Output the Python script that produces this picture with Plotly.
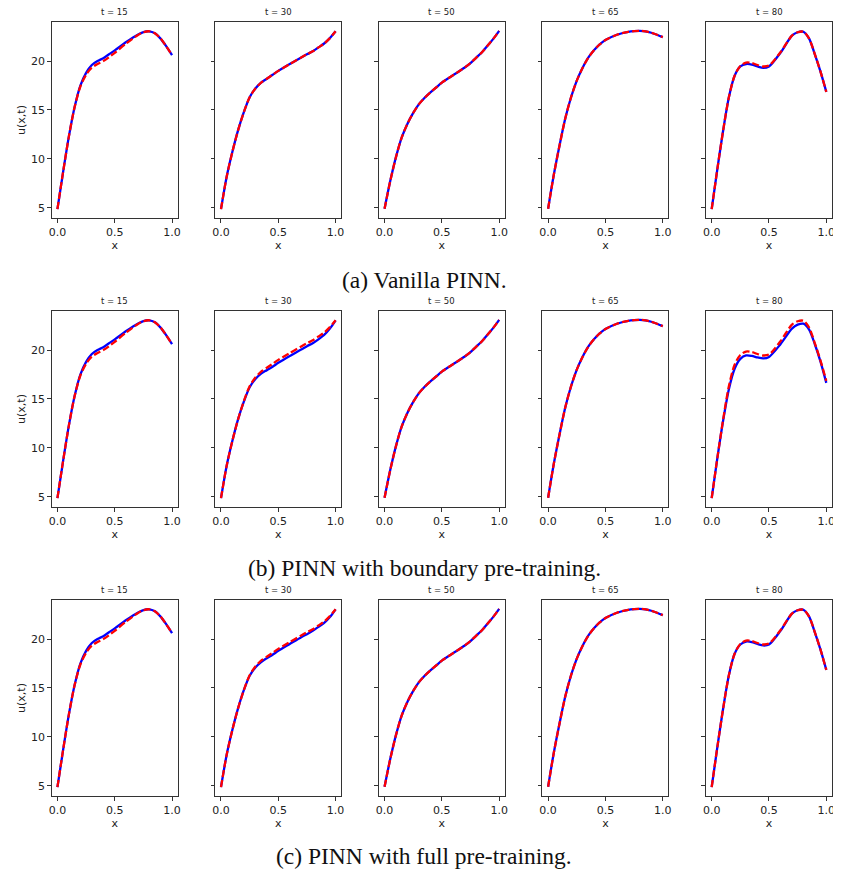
import plotly.graph_objects as go

# ---------------- data ----------------
x_grid = [0.0, 0.05, 0.1, 0.15, 0.2, 0.25, 0.3, 0.35, 0.4, 0.45, 0.5,
          0.6, 0.7, 0.75, 0.8, 0.85, 0.9, 0.95, 1.0]

times = [15, 30, 50, 65, 80]
row_captions = ["(a) Vanilla PINN.",
                "(b) PINN with boundary pre-training.",
                "(c) PINN with full pre-training."]

# exact solution (red dashed)
exact_t15 = [4.86, 8.7, 12.3, 15.3, 17.4, 18.6, 19.35, 19.7, 20.0, 20.4, 20.85,
             21.8, 22.65, 22.95, 23.05, 22.85, 22.3, 21.5, 20.6]
exact_t30 = [4.86, 8.2, 10.75, 12.96, 14.8, 16.3, 17.2, 17.8, 18.2, 18.6, 19.0,
             19.7, 20.37, 20.7, 21.0, 21.4, 21.8, 22.35, 23.05]
exact_t50 = [4.9, 7.75, 10.2, 12.2, 13.6, 14.7, 15.6, 16.25, 16.8, 17.3, 17.8,
             18.57, 19.35, 19.8, 20.35, 20.9, 21.6, 22.3, 23.1]
exact_t65 = [4.9, 8.4, 11.4, 14.15, 16.3, 18.0, 19.3, 20.35, 21.1, 21.7, 22.15,
             22.7, 23.0, 23.07, 23.1, 23.05, 22.9, 22.7, 22.45]
exact_t80 = [4.85, 9.0, 12.9, 16.3, 18.5, 19.5, 19.85, 19.8, 19.6, 19.45, 19.55,
             20.9, 22.6, 22.95, 23.0, 22.3, 20.7, 18.9, 16.85]

# (a) vanilla PINN predictions (blue solid)
vanilla_t15 = [4.86, 8.7, 12.3, 15.3, 17.5, 18.8, 19.6, 20.0, 20.3, 20.7, 21.1,
               21.95, 22.7, 22.97, 23.05, 22.85, 22.3, 21.5, 20.6]
vanilla_t30 = exact_t30
vanilla_t50 = exact_t50
vanilla_t65 = exact_t65
vanilla_t80 = [4.85, 9.0, 12.9, 16.3, 18.5, 19.45, 19.7, 19.65, 19.45, 19.3, 19.45,
               20.85, 22.6, 22.95, 23.0, 22.3, 20.7, 18.9, 16.85]

# (b) boundary pre-training predictions
boundary_t15 = [4.86, 8.7, 12.3, 15.3, 17.5, 18.8, 19.6, 20.0, 20.3, 20.7, 21.1,
                21.95, 22.7, 22.97, 23.05, 22.85, 22.3, 21.5, 20.6]
boundary_t30 = [4.86, 8.2, 10.75, 12.96, 14.75, 16.2, 17.05, 17.6, 17.95, 18.3, 18.7,
                19.4, 20.05, 20.4, 20.7, 21.1, 21.55, 22.2, 23.05]
boundary_t50 = exact_t50
boundary_t65 = exact_t65
boundary_t80 = [4.85, 9.0, 12.8, 16.0, 18.1, 19.1, 19.45, 19.4, 19.25, 19.15, 19.3,
                20.6, 22.2, 22.6, 22.7, 22.1, 20.6, 18.8, 16.65]

# (c) full pre-training predictions
full_t15 = [4.86, 8.7, 12.3, 15.3, 17.5, 18.8, 19.6, 20.0, 20.3, 20.7, 21.1,
            21.95, 22.7, 22.97, 23.05, 22.85, 22.3, 21.5, 20.6]
full_t30 = [4.86, 8.2, 10.75, 12.96, 14.8, 16.25, 17.1, 17.65, 18.05, 18.4, 18.8,
            19.5, 20.2, 20.5, 20.85, 21.25, 21.65, 22.25, 23.05]
full_t50 = exact_t50
full_t65 = exact_t65
full_t80 = [4.85, 9.0, 12.9, 16.3, 18.5, 19.45, 19.75, 19.7, 19.5, 19.35, 19.45,
            20.85, 22.6, 22.95, 23.0, 22.3, 20.7, 18.9, 16.85]

exact_rows = [exact_t15, exact_t30, exact_t50, exact_t65, exact_t80]
pred_rows = [
    [vanilla_t15, vanilla_t30, vanilla_t50, vanilla_t65, vanilla_t80],
    [boundary_t15, boundary_t30, boundary_t50, boundary_t65, boundary_t80],
    [full_t15, full_t30, full_t50, full_t65, full_t80],
]

x_ticks = [0.0, 0.5, 1.0]
y_ticks = [5, 10, 15, 20]

# ---------------- layout ----------------
OFF = 8  # page body margin
W, H = 841 - OFF, 873 - OFF
col_left = [49 + 164.75 * c - OFF for c in range(5)]
col_w = 127
row_top = [22 + 289 * r - OFF for r in range(3)]
row_h = 196
caption_y = [280 - OFF, 568 - OFF, 856 - OFF]
caption_x = 424 - OFF

fig = go.Figure()
layout = dict(width=W, height=H, margin=dict(l=0, r=0, t=0, b=0), autosize=False,
              paper_bgcolor="white", plot_bgcolor="white", showlegend=False,
              font=dict(family="DejaVu Sans", color="#222222", size=11))
annotations = []

k = 0
for r in range(3):
    for c in range(5):
        k += 1
        xa = "x" if k == 1 else f"x{k}"
        ya = "y" if k == 1 else f"y{k}"
        fig.add_trace(go.Scatter(x=x_grid, y=pred_rows[r][c], mode="lines",
                                 line=dict(color="#0000ff", width=2.3, shape="spline", smoothing=0.8),
                                 xaxis=xa, yaxis=ya))
        fig.add_trace(go.Scatter(x=x_grid, y=exact_rows[c], mode="lines",
                                 line=dict(color="#ff0000", width=2.3, dash="7px,3px",
                                           shape="spline", smoothing=0.8),
                                 xaxis=xa, yaxis=ya))
        x0 = col_left[c] / W
        x1 = min(1.0, (col_left[c] + col_w) / W)
        y1 = 1 - row_top[r] / H
        y0 = 1 - (row_top[r] + row_h) / H
        axis_common = dict(showline=True, mirror=True, linecolor="#333333", linewidth=1,
                           showgrid=False, zeroline=False, ticks="outside", ticklen=3.5,
                           tickwidth=1, tickcolor="#333333",
                           tickfont=dict(family="DejaVu Sans", size=11, color="#222222"))
        layout["xaxis" if k == 1 else f"xaxis{k}"] = dict(
            axis_common, domain=[x0, x1], range=[-0.05, 1.05], tickvals=x_ticks,
            ticktext=[f"{v:.1f}" for v in x_ticks], anchor=ya,
            title=dict(text="x", font=dict(size=11, family="DejaVu Sans"), standoff=2))
        layout["yaxis" if k == 1 else f"yaxis{k}"] = dict(
            axis_common, domain=[y0, y1], range=[3.95, 24.0], tickvals=y_ticks,
            showticklabels=(c == 0), anchor=xa,
            title=dict(text="u(x,t)" if c == 0 else "", font=dict(size=11, family="DejaVu Sans"),
                       standoff=3))
        annotations.append(dict(text=f"t = {times[c]}", xref="paper", yref="paper",
                                x=(x0 + x1) / 2, y=1 - (row_top[r] - 10) / H,
                                showarrow=False, xanchor="center", yanchor="middle",
                                font=dict(size=8.5, family="DejaVu Sans", color="#222222")))
    annotations.append(dict(text=row_captions[r], xref="paper", yref="paper",
                            x=caption_x / W, y=1 - caption_y[r] / H, showarrow=False,
                            xanchor="center", yanchor="middle",
                            font=dict(size=23.5, family="Liberation Serif", color="#111111")))

layout["annotations"] = annotations
fig.update_layout(**layout)
fig.write_html("out.html")
